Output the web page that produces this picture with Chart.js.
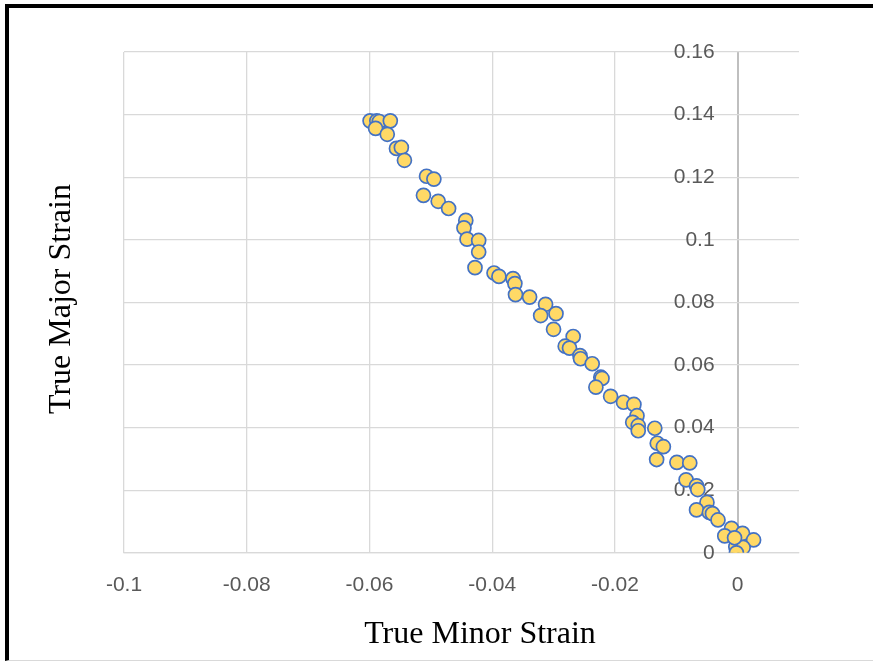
<!DOCTYPE html>
<html>
<head>
<meta charset="utf-8">
<script src="https://cdn.jsdelivr.net/npm/chart.js@4/dist/chart.umd.min.js"></script>
<style>
  html, body { margin: 0; padding: 0; background: #fff; }
  #wrap { position: relative; width: 873px; height: 663px; overflow: hidden; }
  #frame { position: absolute; left: 5px; top: 4px; right: -10px; bottom: 2px;
           border-top: 4px solid #000; border-left: 4px solid #000; border-bottom: 1px solid #d9d9d9; }
  canvas { position: absolute; left: 0; top: 0; }
</style>
</head>
<body>
<div id="wrap">
  <div id="frame"></div>
  <canvas id="c" width="873" height="663"></canvas>
</div>
<script>
// ---- data ----
const minorStrain = [
  -0.0599, -0.0588, -0.0584, -0.0566, -0.0590, -0.0571, -0.0556, -0.0548, -0.0543, -0.0507,
  -0.0495, -0.0512, -0.0488, -0.0471, -0.0443, -0.0446, -0.0441, -0.0422, -0.0422, -0.0428,
  -0.0397, -0.0389, -0.0366, -0.0363, -0.0362, -0.0339, -0.0313, -0.0321, -0.0296, -0.0300,
  -0.0268, -0.0281, -0.0274, -0.0257, -0.0256, -0.0237, -0.0223, -0.0221, -0.0231, -0.0207,
  -0.0186, -0.0169, -0.0164, -0.0171, -0.0162, -0.0162, -0.0135, -0.0131, -0.0121, -0.0132,
  -0.0099, -0.0078, -0.0084, -0.0067, -0.0065, -0.0050, -0.0067, -0.0046, -0.0041, -0.0032,
  -0.0010, -0.0021, 0.0008, 0.0026, -0.0003, 0.0009, -0.0002, -0.0005
];
const majorStrain = [
  0.1380, 0.1380, 0.1378, 0.1380, 0.1356, 0.1337, 0.1292, 0.1295, 0.1254, 0.1203,
  0.1194, 0.1142, 0.1123, 0.1100, 0.1062, 0.1038, 0.1002, 0.0998, 0.0961, 0.0911,
  0.0894, 0.0883, 0.0876, 0.0860, 0.0825, 0.0817, 0.0794, 0.0758, 0.0764, 0.0714,
  0.0691, 0.0660, 0.0654, 0.0630, 0.0620, 0.0604, 0.0561, 0.0557, 0.0529, 0.0500,
  0.0481, 0.0474, 0.0438, 0.0417, 0.0406, 0.0390, 0.0398, 0.0350, 0.0339, 0.0298,
  0.0289, 0.0287, 0.0233, 0.0214, 0.0202, 0.0161, 0.0137, 0.0129, 0.0125, 0.0105,
  0.0078, 0.0054, 0.0062, 0.0041, 0.0019, 0.0017, 0.0000, 0.0048
];
const xTicks = [-0.1, -0.08, -0.06, -0.04, -0.02, 0];
const yTicks = [0, 0.02, 0.04, 0.06, 0.08, 0.1, 0.12, 0.14, 0.16];
const xTitle = 'True Minor Strain';
const yTitle = 'True Major Strain';

const points = minorStrain.map((x, i) => ({ x: x, y: majorStrain[i] }));
const fmt = v => String(+Number(v).toFixed(2));

const titlePlugin = {
  id: 'axisTitles',
  afterDraw(chart) {
    const ctx = chart.ctx;
    ctx.save();
    ctx.fillStyle = '#000';
    ctx.font = '32px "Liberation Serif", "Times New Roman", serif';
    ctx.textAlign = 'center';
    ctx.textBaseline = 'middle';
    ctx.fillText(xTitle, 480, 635);
    ctx.translate(62, 299);
    ctx.rotate(-Math.PI / 2);
    ctx.fillText(yTitle, 0, 0);
    ctx.restore();
  }
};

new Chart(document.getElementById('c'), {
  type: 'scatter',
  data: {
    datasets: [{
      data: points,
      pointRadius: 7,
      pointHoverRadius: 7,
      pointBackgroundColor: '#FFD966',
      pointBorderColor: '#4472C4',
      pointBorderWidth: 1.7
    }]
  },
  options: {
    responsive: false,
    animation: false,
    events: [],
    layout: { padding: { left: 124, right: 74, top: 52, bottom: 45 } },
    plugins: { legend: { display: false }, tooltip: { enabled: false } },
    scales: {
      x: {
        type: 'linear',
        position: 'bottom',
        min: -0.1,
        max: 0.01,
        afterBuildTicks: s => { s.ticks = xTicks.map(v => ({ value: v })); },
        grid: {
          color: c => (c.tick && c.tick.value === 0 ? '#bfbfbf' : '#d9d9d9'),
          lineWidth: c => (c.tick && c.tick.value === 0 ? 2 : 1.3),
          drawTicks: false
        },
        border: { color: '#d9d9d9', width: 1.3 },
        ticks: {
          padding: 20,
          color: '#595959',
          font: { family: '"Liberation Sans", Arial, sans-serif', size: 21 },
          callback: v => fmt(v),
          autoSkip: false,
          maxRotation: 0
        }
      },
      y: {
        type: 'linear',
        // labels sit 23px left of the x = 0 line
        position: { x: -0.00375 },
        min: 0,
        max: 0.16,
        afterBuildTicks: s => { s.ticks = yTicks.map(v => ({ value: v })); },
        grid: { color: '#d9d9d9', lineWidth: 1.3, drawTicks: false },
        border: { display: false },
        ticks: {
          padding: 0,
          color: '#595959',
          font: { family: '"Liberation Sans", Arial, sans-serif', size: 21 },
          callback: v => fmt(v),
          autoSkip: false
        }
      }
    }
  },
  plugins: [titlePlugin]
});
</script>
</body>
</html>
